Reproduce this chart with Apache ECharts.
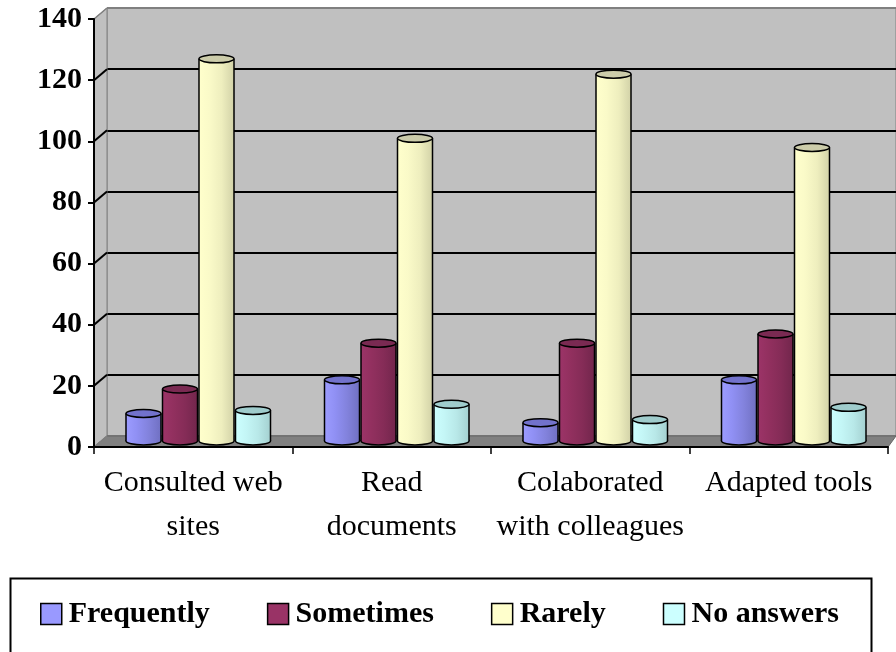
<!DOCTYPE html>
<html>
<head>
<meta charset="utf-8">
<script src="https://cdn.jsdelivr.net/npm/echarts@6/dist/echarts.min.js"></script>
<style>
html,body{margin:0;padding:0;background:#fff;}
#chart{width:896px;height:652px;}
</style>
</head>
<body>
<div id="chart"></div>
<script>
const categories = ['Consulted web\nsites', 'Read\ndocuments', 'Colaborated\nwith colleagues', 'Adapted tools'];
const seriesNames = ['Frequently', 'Sometimes', 'Rarely', 'No answers'];
const frequently = [9, 20, 6, 20];
const sometimes = [17, 32, 32, 35];
const rarely = [125, 99, 120, 96];
const noAnswers = [10, 12, 7, 11];
const yTicks = [0, 20, 40, 60, 80, 100, 120, 140];

const allValues = [frequently, sometimes, rarely, noAnswers];
const baseColors = ['#9999ff', '#993366', '#ffffcc', '#ccffff'];
const shades = [
  ['#9c9cff', '#9090f4', '#8282dc', '#7070c2', '#7272cc'],
  ['#9c3468', '#92305f', '#852c57', '#72264c', '#7a2a52'],
  ['#ffffcc', '#fafac8', '#eeeebe', '#d2d2a8', '#ccccaa'],
  ['#ccffff', '#c4f6f6', '#b8e8e8', '#a4d0d0', '#9fcccc']
];
const FONT = '"Liberation Serif", "Times New Roman", serif';
const DX = 13, DY = -11;

function cylinder(sIdx) {
  return function (params, api) {
    const cat = api.value(0), v = api.value(1);
    const c0 = api.coord([cat, 0]);
    const c1 = api.coord([cat, v]);
    const rx = 17.5, ry = 4;
    const cx = c0[0] + 5 + (sIdx - 1.5) * 36.5;
    const yb = c0[1] - 2 - ry;
    const yt = c1[1] - 2 - ry;
    const sh = shades[sIdx];
    const grad = new echarts.graphic.LinearGradient(0, 0, 1, 0, [
      {offset: 0, color: sh[0]}, {offset: 0.3, color: sh[1]},
      {offset: 0.65, color: sh[2]}, {offset: 1, color: sh[3]}
    ]);
    return {
      type: 'group',
      children: [
        {type: 'ellipse', shape: {cx: cx, cy: yb, rx: rx, ry: ry}, style: {fill: grad, stroke: '#000', lineWidth: 1.5}},
        {type: 'rect', shape: {x: cx - rx, y: yt, width: 2 * rx, height: yb - yt}, style: {fill: grad}},
        {type: 'line', shape: {x1: cx - rx, y1: yt, x2: cx - rx, y2: yb}, style: {stroke: '#000', lineWidth: 1.5}},
        {type: 'line', shape: {x1: cx + rx, y1: yt, x2: cx + rx, y2: yb}, style: {stroke: '#000', lineWidth: 1.5}},
        {type: 'ellipse', shape: {cx: cx, cy: yt, rx: rx, ry: ry}, style: {fill: sh[4], stroke: '#000', lineWidth: 1.5}}
      ]
    };
  };
}

function frame(params, api) {
  const rect = params.coordSys;
  const v = api.value(1);
  const y = api.coord([0, v])[1];
  const x = rect.x;
  const children = [];
  if (params.dataIndex === 0) {
    const y0 = rect.y + rect.height;
    children.push({type: 'polygon', shape: {points: [[x, y0], [x, rect.y], [x + DX, rect.y + DY], [x + DX, y0 + DY]]},
      style: {fill: '#c0c0c0', stroke: '#808080', lineWidth: 1}});
    children.push({type: 'polygon', shape: {points: [[x, y0], [x + DX, y0 + DY], [api.getWidth(), y0 + DY], [x + rect.width, y0]]},
      style: {fill: '#808080', stroke: '#666', lineWidth: 1}});
  }
  const edge = (v === yTicks[0] || v === yTicks[yTicks.length - 1]);
  children.push({type: 'line', shape: {x1: x, y1: y, x2: x + DX, y2: y + DY},
    style: {stroke: edge ? '#808080' : '#000', lineWidth: edge ? 1.5 : 2}});
  return {type: 'group', children: children};
}

const chart = echarts.init(document.getElementById('chart'));
const series = [
  {
    type: 'custom', name: 'frame', xAxisIndex: 0, yAxisIndex: 0, z: 1, clip: false, silent: true,
    renderItem: frame,
    data: yTicks.map(function (t) { return [0, t]; })
  }
];
seriesNames.forEach(function (n, s) {
  series.push({
    type: 'custom', name: n, xAxisIndex: 0, yAxisIndex: 0, z: 3, clip: false,
    itemStyle: {color: baseColors[s]},
    renderItem: cylinder(s),
    data: categories.map(function (c, i) { return [i, allValues[s][i]]; })
  });
});

chart.setOption({
  animation: false,
  backgroundColor: '#fff',
  grid: [
    {left: 94, right: 8, top: 19, bottom: 205, show: false},
    {left: 107, right: 0, top: 8, bottom: 216, show: true, backgroundColor: '#c0c0c0', borderColor: '#808080', borderWidth: 1}
  ],
  xAxis: [
    {type: 'category', gridIndex: 0, data: categories, z: 10,
      axisLine: {lineStyle: {color: '#000', width: 2}},
      axisTick: {show: true, length: 7, lineStyle: {color: '#000', width: 1.5}},
      axisLabel: {color: '#000', fontFamily: FONT, fontSize: 30, lineHeight: 44, margin: 14, interval: 0}},
    {type: 'category', gridIndex: 1, data: categories, show: false}
  ],
  yAxis: [
    {type: 'value', gridIndex: 0, min: 0, max: 140, interval: 20, z: 10,
      axisLine: {show: true, lineStyle: {color: '#000', width: 2}},
      axisTick: {show: true, length: 6, lineStyle: {color: '#000', width: 2}},
      splitLine: {show: false},
      axisLabel: {color: '#000', fontFamily: FONT, fontSize: 30, fontWeight: 'bold', margin: 12}},
    {type: 'value', gridIndex: 1, min: 0, max: 140, interval: 20,
      axisLine: {show: false}, axisTick: {show: false}, axisLabel: {show: false},
      splitLine: {show: true, lineStyle: {color: ['#808080', '#000', '#000', '#000', '#000', '#000', '#000', '#808080'], width: 2}}}
  ],
  legend: {
    left: 40, top: 599, padding: 0, itemGap: 57, itemWidth: 21, itemHeight: 21,
    icon: 'rect',
    textStyle: {color: '#000', fontFamily: FONT, fontSize: 30, fontWeight: 'bold', padding: [0, 0, 0, 2]},
    data: seriesNames.map(function (n, i) {
      return {name: n, itemStyle: {color: baseColors[i], borderColor: '#000', borderWidth: 1.5}};
    })
  },
  graphic: [
    {type: 'rect', left: 8, top: 576, shape: {width: 861, height: 90}, style: {fill: 'none', stroke: '#000', lineWidth: 2}, z: -1}
  ],
  series: series
});
</script>
</body>
</html>
